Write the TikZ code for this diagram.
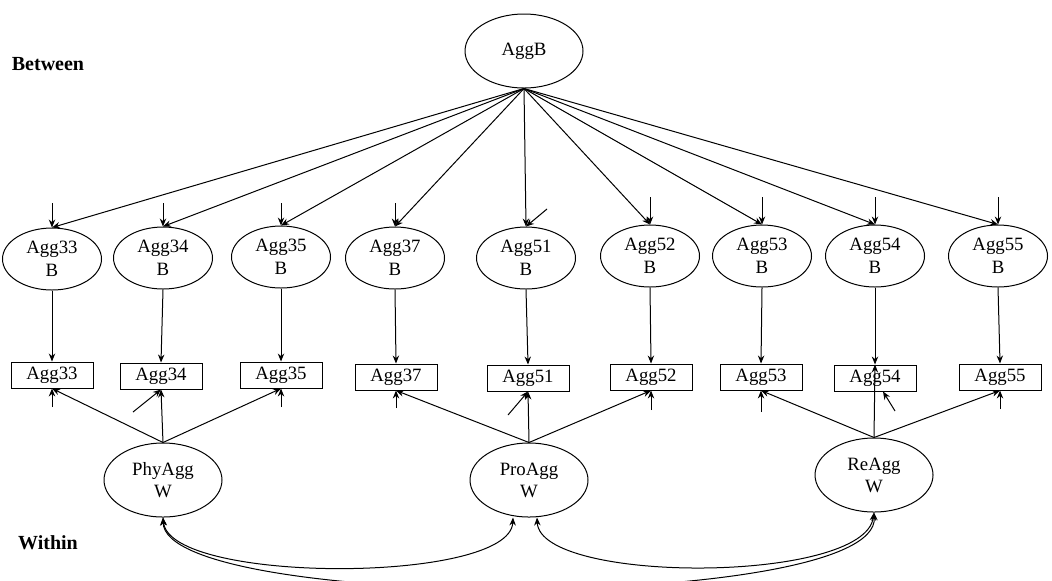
\documentclass[tikz,border=0pt]{standalone}
\usepackage{fontspec}
\setmainfont{Liberation Serif}
\usetikzlibrary{shapes.geometric,arrows.meta}
\begin{document}
\begin{tikzpicture}[x=0.5pt,y=-0.5pt,
 lat/.style={draw,ellipse,inner sep=0pt,minimum width=49.5pt,minimum height=31pt,align=center,font=\fontsize{9.4}{11.5}\selectfont},
 fac/.style={lat,minimum width=59pt,minimum height=37pt,font=\fontsize{9.4}{11}\selectfont},
 obs/.style={draw,rectangle,inner sep=0pt,minimum width=41pt,minimum height=13pt,font=\fontsize{9.4}{11}\selectfont},
 arr/.style={-{Stealth[length=4pt,width=3.2pt]},line width=0.5pt},
 cov/.style={{Stealth[length=4pt,width=3.2pt]}-{Stealth[length=4pt,width=3.2pt]},line width=0.5pt},
 lvl/.style={font=\fontsize{10}{12}\selectfont\bfseries},
 every node/.style={line width=0.5pt}]
\useasboundingbox (0,0) rectangle (1052,580);
\clip (0,0) rectangle (1052,580);

% level labels
\node[lvl] (between) at (48,64) {Between};
\node[lvl] (within) at (48,543) {Within};

% top latent
\node[fac] (AggB) at (524,51) {AggB};

% between latents
\node[lat] (b33) at (52,259) {Agg33\\B};
\node[lat] (b34) at (163,258) {Agg34\\B};
\node[lat] (b35) at (281,257) {Agg35\\B};
\node[lat] (b37) at (395,258) {Agg37\\B};
\node[lat] (b51) at (526,258) {Agg51\\B};
\node[lat] (b52) at (650,256) {Agg52\\B};
\node[lat] (b53) at (762,256) {Agg53\\B};
\node[lat] (b54) at (875,256) {Agg54\\B};
\node[lat] (b55) at (998,256) {Agg55\\B};

% observed
\node[obs] (o33) at (52,375) {Agg33};
\node[obs] (o34) at (161,376) {Agg34};
\node[obs] (o35) at (281,375) {Agg35};
\node[obs] (o37) at (396,377) {Agg37};
\node[obs] (o51) at (528,378) {Agg51};
\node[obs] (o52) at (651,377) {Agg52};
\node[obs] (o53) at (761,377) {Agg53};
\node[obs] (o54) at (875,378) {Agg54};
\node[obs] (o55) at (1000,377) {Agg55};

% within factors
\node[fac] (phy) at (163,480) {PhyAgg\\W};
\node[fac] (pro) at (529,480) {ProAgg\\W};
\node[fac] (re) at (874,475) {ReAgg\\W};

% AggB loadings
\foreach \n in {b33,b34,b35,b37,b51,b52,b53,b54,b55}
  \draw[arr] (AggB.south) -- (\n.north);

% residuals of between latents
\coordinate (e33) at (52,203);
\coordinate (e34) at (163,203);
\coordinate (e35) at (281,203);
\coordinate (e37) at (395,203);
\coordinate (e51) at (547,209);
\coordinate (e52) at (650,197);
\coordinate (e53) at (762,197);
\coordinate (e54) at (875,197);
\coordinate (e55) at (998,197);
\foreach \n in {33,34,35,37,51,52,53,54,55}
  \draw[arr] (e\n) -- (b\n.north);

% between latent -> observed
\foreach \n in {33,34,35,37,51,52,53,54,55}
  \draw[arr] (b\n.south) -- (o\n.north);

% residuals of observed
\coordinate (r33) at (52,407);
\coordinate (r34) at (133,412);
\coordinate (r35) at (281,407);
\coordinate (r37) at (396,408);
\coordinate (r51) at (508,415);
\coordinate (r52) at (651,410);
\coordinate (r53) at (761,412);
\coordinate (r54) at (895,411);
\coordinate (r55) at (1000,409);
\foreach \n in {33,34,35,37,51,52,53,55}
  \draw[arr] (r\n) -- (o\n.south);
\draw[arr] (r54) -- ([xshift=4]o54.south);

% within loadings
\foreach \n in {33,34,35}
  \draw[arr] (phy.north) -- (o\n.south);
\foreach \n in {37,51,52}
  \draw[arr] (pro.north) -- (o\n.south);
\foreach \n in {53,55}
  \draw[arr] (re.north) -- (o\n.south);
\draw[arr] (re.north) -- (o54.north);

% covariances
\draw[cov] (phy.south) .. controls (170,584) and (510,584) .. ([xshift=-8]pro.south);
\draw[cov] ([xshift=4]pro.south) .. controls (540,584) and (864,584) .. (re.south);
\draw[cov] (phy.south) .. controls (165,612) and (880,612) .. (re.south);
\end{tikzpicture}
\end{document}
